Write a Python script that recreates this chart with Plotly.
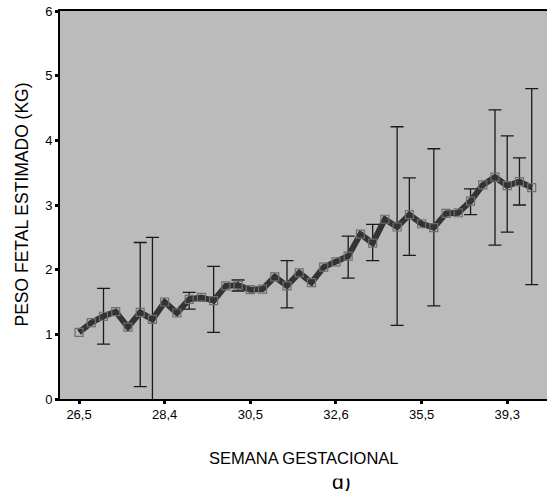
import plotly.graph_objects as go

# Data
peso = [1.03, 1.18, 1.28, 1.35, 1.11, 1.34, 1.23, 1.50, 1.33, 1.54,
        1.57, 1.52, 1.75, 1.76, 1.69, 1.70, 1.89, 1.75, 1.95, 1.80,
        2.04, 2.12, 2.21, 2.55, 2.41, 2.78, 2.66, 2.85, 2.71, 2.65,
        2.87, 2.88, 3.06, 3.31, 3.43, 3.30, 3.36, 3.27]
semana_idx = list(range(len(peso)))

tick_idx = [0, 7, 14, 21, 28, 35]
tick_labels = ["26,5", "28,4", "30,5", "32,6", "35,5", "39,3"]

err_idx = [2, 5, 6, 9, 11, 13, 17, 22, 24, 26, 27, 29, 32, 34, 35, 36, 37]
err_hi = [1.71, 2.42, 2.50, 1.65, 2.05, 1.84, 2.14, 2.52, 2.70, 4.21, 3.42,
          3.87, 3.25, 4.47, 4.07, 3.73, 4.80]
err_lo = [0.85, 0.19, -0.04, 1.39, 1.03, 1.67, 1.41, 1.87, 2.14, 1.14, 2.22,
          1.44, 2.85, 2.38, 2.58, 3.00, 1.77]

err_y = [peso[i] for i in err_idx]
plus = [h - y for h, y in zip(err_hi, err_y)]
minus = [y - l for l, y in zip(err_lo, err_y)]

fig = go.Figure()
fig.add_trace(go.Scatter(
    x=err_idx, y=err_y, mode="markers",
    marker=dict(size=1, opacity=0),
    error_y=dict(type="data", symmetric=False, array=plus, arrayminus=minus,
                 color="#1a1a1a", thickness=1.3, width=6.5),
    hoverinfo="skip", showlegend=False))
fig.add_trace(go.Scatter(
    x=semana_idx, y=peso, mode="lines+markers",
    line=dict(color="#333333", width=6),
    marker=dict(symbol="square-open", size=8, color="#6e6e6e",
                line=dict(width=1.2, color="#6e6e6e")),
    showlegend=False))

font_family = "Liberation Sans, Arial, sans-serif"
fig.update_layout(
    width=547, height=491,
    margin=dict(l=60, r=0, t=11, b=92),
    paper_bgcolor="white", plot_bgcolor="#bbbbbb",
    font=dict(family=font_family, color="black", size=13),
    xaxis=dict(range=[-1.556, 38.25], tickmode="array", tickvals=tick_idx,
               ticktext=tick_labels, showgrid=False, zeroline=False,
               showline=True, linecolor="black", linewidth=1.5, mirror=True,
               ticks="outside", ticklen=3, tickwidth=3, tickcolor="black",
               tickfont=dict(size=13)),
    yaxis=dict(range=[0, 6], dtick=1, showgrid=False, zeroline=False,
               showline=True, linecolor="black", linewidth=2,
               ticks="outside", ticklen=3, tickwidth=3, tickcolor="black",
               tickfont=dict(size=13)),
    annotations=[
        dict(text="d)", xref="paper", yref="paper", x=(341 - 60) / 487,
             y=-(482 - 399) / 388, xanchor="center", yanchor="middle",
             showarrow=False, font=dict(size=21)),
        dict(text="SEMANA GESTACIONAL", xref="paper", yref="paper", x=0.5,
             y=-(458 - 399) / 388, xanchor="center", yanchor="middle",
             showarrow=False, font=dict(size=16.5), bgcolor="white",
             borderpad=11),
        dict(text="PESO FETAL ESTIMADO (KG)", xref="paper", yref="paper",
             x=(21.5 - 60) / 487, y=0.5, xanchor="center", yanchor="middle",
             textangle=-90, showarrow=False, font=dict(size=17.5)),
    ],
)

fig.write_html("out.html")
